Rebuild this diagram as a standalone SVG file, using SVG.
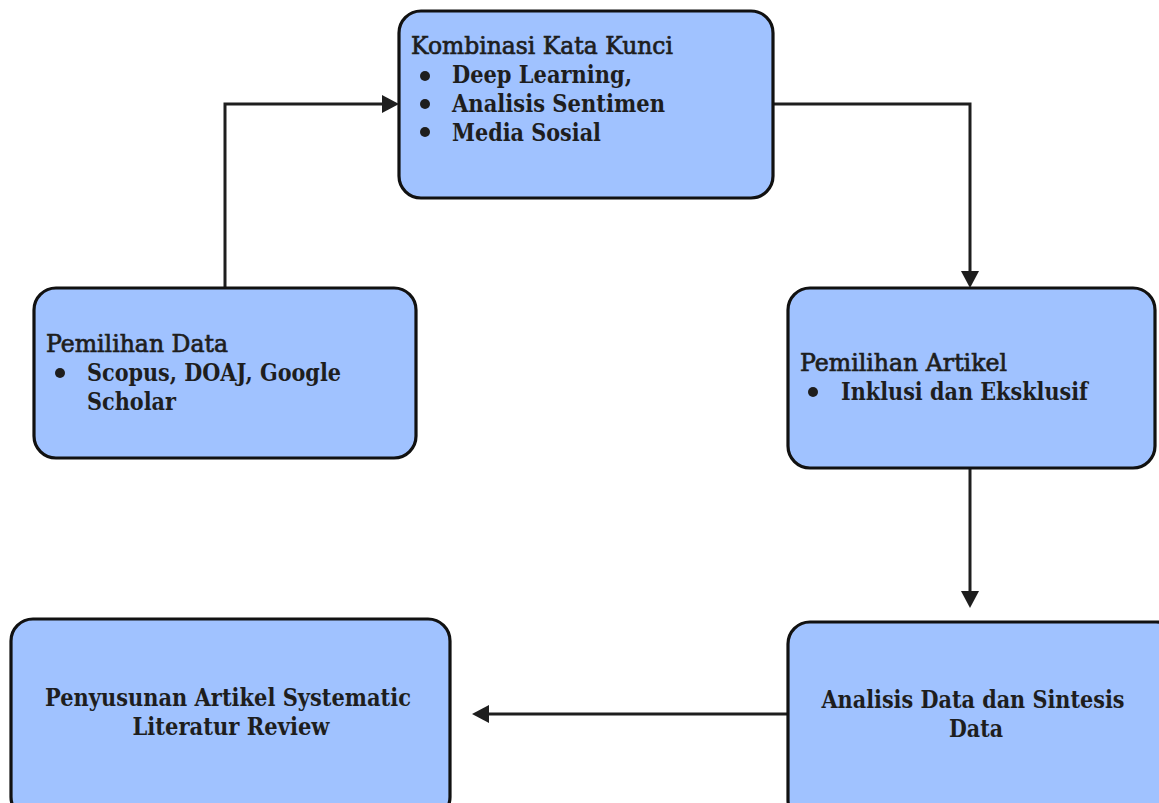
<svg xmlns="http://www.w3.org/2000/svg" width="1159" height="803" viewBox="0 0 1159 803">
<style>
.box{fill:#a0c2ff;stroke:#111;stroke-width:3.2}
.t{font-family:"DejaVu Serif","Liberation Serif",serif;font-size:24px;fill:#1e1e1e}
.h{font-weight:normal;stroke:#1e1e1e;stroke-width:0.7}
.b{font-weight:bold}
.c{text-anchor:middle;font-weight:bold}
.con{fill:none;stroke:#1e1e1e;stroke-width:3}
</style>
<rect width="1159" height="803" fill="#fff"/>
<g id="connectors">
<path class="con" d="M225,288 V104 H383"/>
<path d="M399,104 L382,95 L382,113 z" fill="#1e1e1e"/>
<path class="con" d="M773,104 H970 V272"/>
<path d="M970,288 L961,271 L979,271 z" fill="#1e1e1e"/>
<path class="con" d="M970,468 V592"/>
<path d="M970,608 L961,591 L979,591 z" fill="#1e1e1e"/>
<path class="con" d="M788,714 H488"/>
<path d="M472,714 L489,705 L489,723 z" fill="#1e1e1e"/>
</g>
<g id="kombinasi">
<rect class="box" x="399" y="11" width="374" height="187" rx="22"/>
<text class="t h" x="411" y="54" textLength="262" lengthAdjust="spacingAndGlyphs">Kombinasi Kata Kunci</text>
<circle cx="425" cy="76" r="5" fill="#1e1e1e"/>
<circle cx="425" cy="104" r="5" fill="#1e1e1e"/>
<circle cx="425" cy="132" r="5" fill="#1e1e1e"/>
<text class="t b" x="452" y="83" textLength="180" lengthAdjust="spacingAndGlyphs">Deep Learning,</text>
<text class="t b" x="452" y="112" textLength="213" lengthAdjust="spacingAndGlyphs">Analisis Sentimen</text>
<text class="t b" x="452" y="141" textLength="149" lengthAdjust="spacingAndGlyphs">Media Sosial</text>
</g>
<g id="pemilihan-data">
<rect class="box" x="34" y="288" width="382" height="170" rx="22"/>
<text class="t h" x="46" y="352" textLength="182" lengthAdjust="spacingAndGlyphs">Pemilihan Data</text>
<circle cx="60" cy="373" r="5" fill="#1e1e1e"/>
<text class="t b" x="87" y="381" textLength="254" lengthAdjust="spacingAndGlyphs">Scopus, DOAJ, Google</text>
<text class="t b" x="87" y="410" textLength="89" lengthAdjust="spacingAndGlyphs">Scholar</text>
</g>
<g id="pemilihan-artikel">
<rect class="box" x="788" y="288" width="367" height="180" rx="22"/>
<text class="t h" x="800" y="371" textLength="207" lengthAdjust="spacingAndGlyphs">Pemilihan Artikel</text>
<circle cx="813" cy="392" r="5" fill="#1e1e1e"/>
<text class="t b" x="841" y="400" textLength="247" lengthAdjust="spacingAndGlyphs">Inklusi dan Eksklusif</text>
</g>
<g id="penyusunan">
<rect class="box" x="11" y="619" width="439" height="200" rx="22"/>
<text class="t c" x="228" y="706" textLength="366" lengthAdjust="spacingAndGlyphs">Penyusunan Artikel Systematic</text>
<text class="t c" x="231" y="735" textLength="197" lengthAdjust="spacingAndGlyphs">Literatur Review</text>
</g>
<g id="analisis">
<rect class="box" x="788" y="622" width="390" height="200" rx="22"/>
<text class="t c" x="973" y="708" textLength="303" lengthAdjust="spacingAndGlyphs">Analisis Data dan Sintesis</text>
<text class="t c" x="976" y="737" textLength="54" lengthAdjust="spacingAndGlyphs">Data</text>
</g>
</svg>
